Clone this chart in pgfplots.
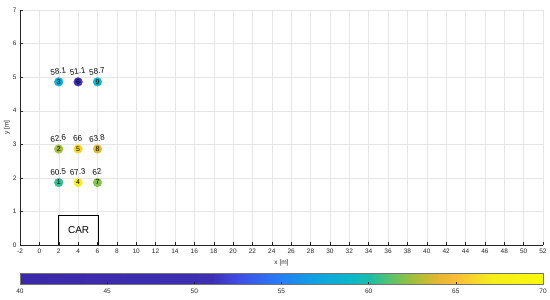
\documentclass[border=0pt]{standalone}
\usepackage{fontspec}
\setmainfont{Liberation Sans}
\usepackage{pgfplots}
\usepackage{pgfplotstable}
\pgfplotsset{compat=1.18}

\definecolor{axgray}{rgb}{0.15,0.15,0.15}
\definecolor{gridgray}{rgb}{0.90,0.90,0.90}

% measurement points: x, y, index, value
\pgfplotstableread{
x y n v
2 1.86 1 60.5
2 2.86 2 62.6
2 4.86 3 58.1
4 1.86 4 67.3
4 2.86 5 66
4 4.86 6 51.1
6 1.86 7 62
6 2.86 8 63.8
6 4.86 9 58.7
}\points

\begin{document}
\begin{tikzpicture}
\path[use as bounding box] (-20pt,-55pt) rectangle (530pt,245pt);
\begin{axis}[
    at={(0,0)}, anchor=south west,
    scale only axis,
    width=523pt, height=235pt,
    xmin=-2, xmax=52, ymin=0, ymax=7,
    xtick={-2,0,...,52}, ytick={0,1,...,7},
    axis x line*=bottom, axis y line*=left,
    axis line style={axgray, line width=0.4pt, -},
    tick style={axgray, line width=0.4pt},
    major tick length=3pt,
    tick align=inside,
    grid=major,
    major grid style={gridgray, line width=0.4pt},
    /pgf/number format/assume math mode=true,
    ticklabel style={font=\fontsize{6.5}{7}\selectfont, text=axgray},
    xlabel={x [m]}, ylabel={y [m]},
    label style={font=\fontsize{6.5}{7}\selectfont, text=axgray},
    xlabel style={yshift=0pt},
    ylabel style={yshift=-4pt},
    colormap={parulaish}{
        rgb(0cm)=(0.23,0.16,0.66);
        rgb(11cm)=(0.24,0.18,0.70);
        rgb(12.5cm)=(0.25,0.30,0.90);
        rgb(15cm)=(0.15,0.50,0.96);
        rgb(17cm)=(0.06,0.64,0.88);
        rgb(19cm)=(0.05,0.72,0.78);
        rgb(20cm)=(0.10,0.74,0.66);
        rgb(21cm)=(0.30,0.76,0.48);
        rgb(22cm)=(0.52,0.76,0.30);
        rgb(23cm)=(0.72,0.74,0.20);
        rgb(24cm)=(0.90,0.72,0.20);
        rgb(25cm)=(0.98,0.74,0.22);
        rgb(26cm)=(0.97,0.84,0.16);
        rgb(27cm)=(0.96,0.93,0.10);
        rgb(30cm)=(0.98,0.98,0.05)
    },
    point meta min=40, point meta max=70,
    colorbar horizontal,
    colorbar style={
        at={(parent axis.south west)}, anchor=north west, yshift=-20pt,
        scale only axis,
        width=523pt, height=11pt,
        xtick={40,45,...,70},
        axis line style={black!55},
        tick style={axgray, line width=0.4pt},
        major tick length=3pt,
        xtick pos=bottom,
        tick align=inside,
        /pgf/number format/assume math mode=true,
        xticklabel style={font=\fontsize{6.5}{7}\selectfont, text=axgray, yshift=-1pt},
    },
    clip=false,
]
% car outline
\addplot[black, line width=1.1pt, mark=none] coordinates {(2,0) (2,0.88) (6.1,0.88) (6.1,0)};
\node[font=\fontsize{10}{11}\selectfont] at (axis cs:4.05,0.44) {CAR};

% coloured points
\addplot[scatter, only marks, mark=*, mark size=4.3pt,
    scatter/use mapped color={draw=mapped color, fill=mapped color},
    point meta=explicit] table[x=x, y=y, meta=v] {\points};

% index inside each point
\addplot[draw=none, mark=none, point meta=explicit symbolic,
    nodes near coords,
    every node near coord/.append style={anchor=center, font=\fontsize{7}{8}\selectfont, text=black, inner sep=0pt}]
    table[x=x, y=y, meta=n] {\points};

% value above each point
\addplot[draw=none, mark=none, point meta=explicit symbolic,
    nodes near coords,
    every node near coord/.append style={anchor=south, yshift=7pt, rotate=8, font=\fontsize{8}{9}\selectfont, text=black, inner sep=0.5pt}]
    table[x=x, y=y, meta=v] {\points};
\end{axis}
\end{tikzpicture}
\end{document}
